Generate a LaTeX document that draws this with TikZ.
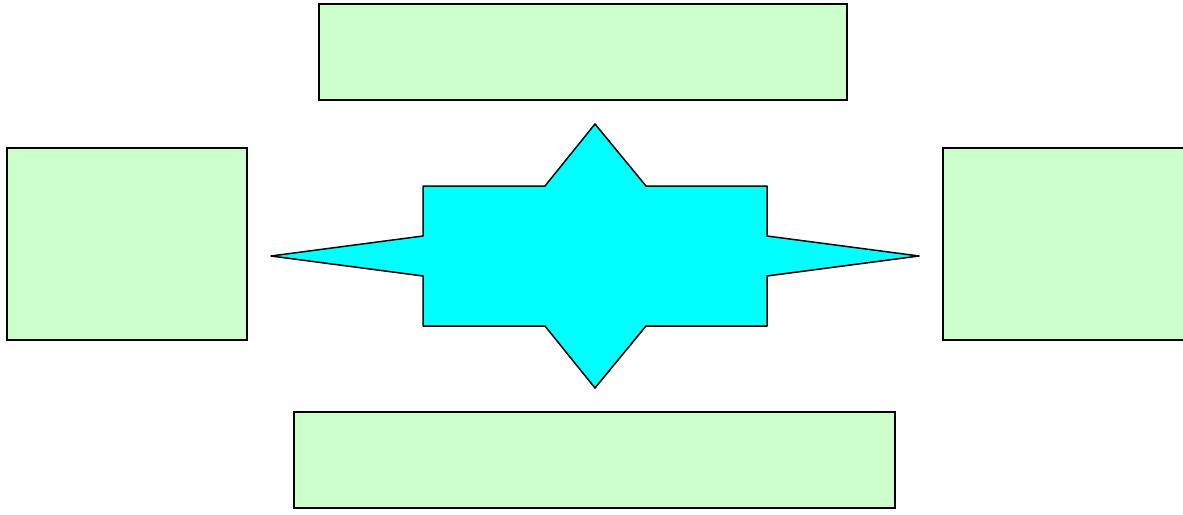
\documentclass[tikz,border=0pt]{standalone}
\begin{document}
\begin{tikzpicture}[x=1pt,y=-1pt,
  greenbox/.style={draw=black,line width=1.5pt,fill={rgb,255:red,204;green,255;blue,204}},
  starshape/.style={draw=black,line width=1.5pt,fill={rgb,255:red,0;green,255;blue,255},line join=round}]
\useasboundingbox (0,0) rectangle (1183,514);
\draw[greenbox] (319,4) rectangle (847,100);
\draw[greenbox] (7,148) rectangle (247,340);
\draw[greenbox] (943,148) rectangle (1186,340);
\draw[greenbox] (294,412) rectangle (895,508);
\draw[starshape] (271,256) -- (423,236) -- (423,186) -- (545,186) -- (595,124) -- (646,186) -- (767,186) -- (767,236) -- (919,256) -- (767,276) -- (767,326) -- (646,326) -- (595,388) -- (545,326) -- (423,326) -- (423,276) -- cycle;
\end{tikzpicture}
\end{document}
